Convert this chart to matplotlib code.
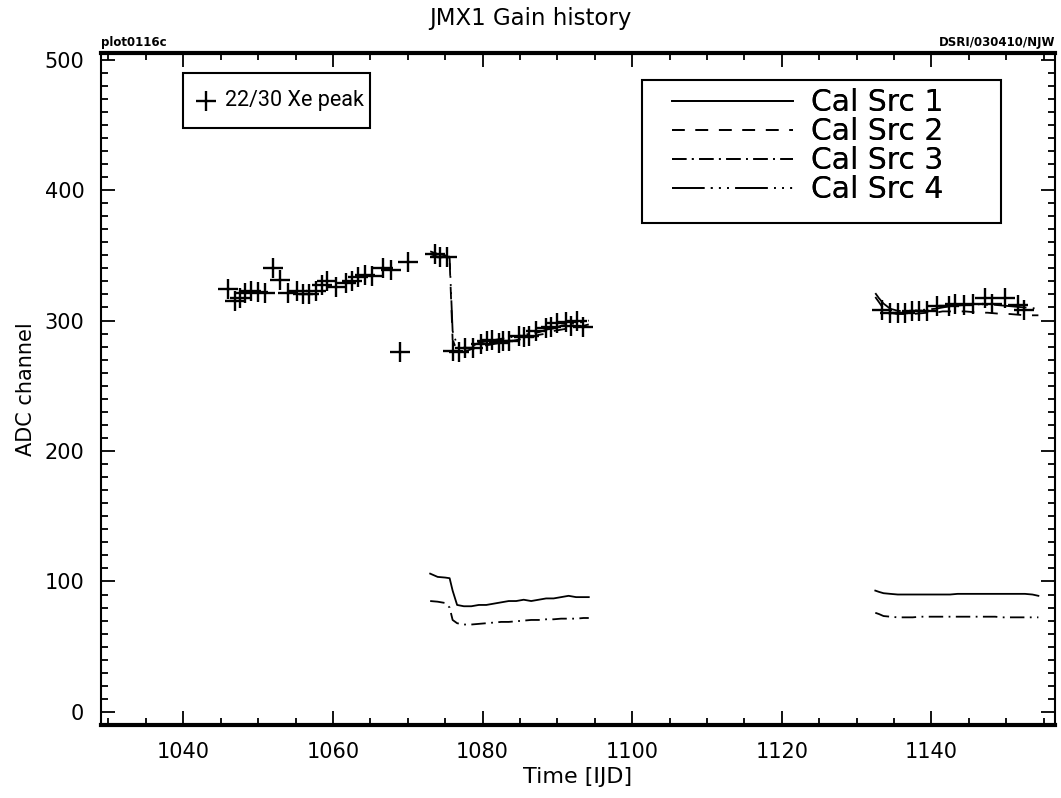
import numpy as np
import matplotlib
matplotlib.use('Agg')
import matplotlib.pyplot as plt
from matplotlib.ticker import MultipleLocator
from matplotlib.patches import Rectangle

# 22/30 Xe peak (crosses)
xe_t = [1046.0, 1046.9, 1047.6, 1048.3, 1049.0, 1050.0, 1050.9, 1052.0, 1052.9,
        1054.0, 1055.2, 1056.0, 1056.8, 1057.7, 1058.6, 1059.2, 1060.4, 1061.8,
        1062.5, 1063.4, 1064.3, 1065.2, 1066.7, 1067.8, 1068.9, 1070.0,
        1073.6, 1074.3, 1075.2,
        1076.0, 1076.9, 1077.7, 1078.7, 1079.8, 1080.6, 1081.2, 1082.2, 1082.8,
        1083.6, 1084.9, 1085.6, 1086.2, 1087.2, 1088.5, 1089.2, 1090.0, 1091.1,
        1091.8, 1092.6, 1093.4,
        1133.4, 1134.5, 1135.5, 1136.5, 1137.4, 1138.3, 1139.4, 1140.7, 1142.3,
        1143.2, 1144.4, 1145.6, 1147.1, 1148.1, 1149.8, 1151.6, 1152.4]
xe_peak = [324, 315, 317, 321, 323, 322, 321, 340, 331,
           321, 323, 320, 320, 323, 327, 330, 326, 329,
           330, 333, 335, 334, 340, 339, 276, 345,
           351, 349, 349,
           277, 276, 279, 279, 282, 284, 285, 283, 284,
           284, 288, 287, 288, 292, 294, 295, 298, 299,
           296, 300, 295,
           308, 306, 306, 306, 307, 307, 307, 311, 311,
           313, 312, 313, 317, 313, 317, 312, 308]

# calibration source lines, two observing periods
t_a = [1073.0, 1074.0, 1075.0, 1075.6, 1076.0, 1076.6, 1077.5, 1078.5, 1079.5,
       1080.5, 1081.5, 1082.5, 1083.5, 1084.5, 1085.5, 1086.5, 1087.5, 1088.5,
       1089.5, 1090.5, 1091.5, 1092.5, 1093.5, 1094.2]
t_b = [1132.5, 1133.0, 1133.6, 1134.5, 1135.5, 1136.5, 1137.5, 1138.5, 1139.5,
       1140.5, 1141.5, 1142.5, 1143.5, 1144.5, 1145.5, 1146.5, 1147.5, 1148.5,
       1149.5, 1150.5, 1151.5, 1152.5, 1153.5, 1154.3]

src1_a = [106, 103.5, 103, 102.5, 93, 82, 81, 81, 82, 82, 83, 84,
          85, 85, 86, 85, 86, 87, 87, 88, 89, 88, 88, 88]
src1_b = [93, 92, 91, 90.5, 90, 90, 90, 90, 90, 90, 90, 90,
          90.5, 90.5, 90.5, 90.5, 90.5, 90.5, 90.5, 90.5, 90.5, 90.5, 90, 89]
src2_a = [351, 349, 348, 346, 285, 277, 276, 278, 280, 281, 282, 283,
          284, 285, 286, 287, 289, 290, 292, 293, 294, 295, 296, 297]
src2_b = [318, 314, 309, 306, 305, 305, 305, 305.5, 306, 306, 307, 307,
          307, 307, 306.5, 306, 306, 305.5, 305, 305, 304.5, 304, 304, 304]
src3_a = [85, 84.5, 83.5, 80, 70.5, 68, 67, 67, 67.5, 68, 68.5, 69,
          69, 69.5, 70, 70.5, 70.5, 71, 71, 71.5, 71.5, 71.5, 72, 72]
src3_b = [76, 75, 73.5, 73, 72.5, 72.5, 72.5, 73, 73, 73, 73, 73,
          73, 73, 73, 73, 73, 73, 72.5, 72.5, 72.5, 72.5, 72.5, 72.5]
src4_a = [353, 351, 350, 348, 292, 281, 278, 280, 283, 284, 285, 286,
          287, 288, 289, 290, 291, 293, 294, 296, 297, 298, 299, 300]
src4_b = [321, 317, 313, 309, 307.5, 307, 307.5, 308, 308.5, 309, 310, 311,
          311.5, 312, 312, 312.5, 312, 312, 311.5, 311, 310.5, 310, 309.5, 309]

src_labels = ['Cal Src 1', 'Cal Src 2', 'Cal Src 3', 'Cal Src 4']

t_all = np.concatenate([t_a, [np.nan], t_b])


def join(a, b):
    return np.concatenate([a, [np.nan], b])


styles = ['-', (0, (7, 6)), (0, (8, 3, 1, 3)),
          (0, (18, 3.5, 1, 3.5, 1, 3.5, 1, 3.5))]
series = [join(src1_a, src1_b), join(src2_a, src2_b),
          join(src3_a, src3_b), join(src4_a, src4_b)]

fig = plt.figure(figsize=(10.61, 7.98), dpi=100)
ax = fig.add_axes([0.0952, 0.0915, 0.899, 0.842])

handles = []
for y, ls, lab in zip(series, styles, src_labels):
    h, = ax.plot(t_all, y, color='k', lw=1.3, ls=ls, label=lab)
    handles.append(h)

ax.plot(xe_t, xe_peak, ls='none', marker='+', ms=14, mew=1.7, color='k')

ax.set_xlim(1029, 1156.5)
ax.set_ylim(-10, 505)
ax.xaxis.set_major_locator(MultipleLocator(20))
ax.xaxis.set_minor_locator(MultipleLocator(5))
ax.yaxis.set_major_locator(MultipleLocator(100))
ax.yaxis.set_minor_locator(MultipleLocator(10))
ax.tick_params(which='both', direction='in', top=True, right=True, width=1.3)
ax.tick_params(which='major', length=10, labelsize=15, pad=12)
ax.tick_params(which='minor', length=5)
for side in ['top', 'bottom']:
    ax.spines[side].set_linewidth(3)
for side in ['left', 'right']:
    ax.spines[side].set_linewidth(1.5)

ax.set_xlabel('Time [IJD]', fontsize=16, labelpad=4)
ax.set_ylabel('ADC channel', fontsize=15, labelpad=6)

fig.text(0.4995, 0.977, 'JMX1 Gain history', ha='center', va='center', fontsize=16.5)
fig.text(0.0952, 0.942, 'plot0116c', ha='left', va='baseline', fontsize=8.5, weight='bold')
fig.text(0.9943, 0.942, 'DSRI/030410/NJW', ha='right', va='baseline', fontsize=8.5, weight='bold')

# legend for the calibration sources
leg2 = ax.legend(handles=handles, loc='upper left', bbox_to_anchor=(0.5985, 0.948),
                 fontsize=21.5, handlelength=4.05, handletextpad=0.6, labelspacing=0.0,
                 borderpad=0, frameon=False, borderaxespad=0)
ax.add_artist(leg2)
ax.add_patch(Rectangle((0.567, 0.747), 0.377, 0.213, transform=ax.transAxes,
                       facecolor='none', edgecolor='k', lw=1.5, zorder=5))

# legend for the Xe peak
ax.add_patch(Rectangle((0.086, 0.888), 0.196, 0.082, transform=ax.transAxes,
                       facecolor='white', edgecolor='k', lw=1.5, zorder=5))
ax.plot([0.1105], [0.929], transform=ax.transAxes, ls='none', marker='+',
        ms=15, mew=1.7, color='k', zorder=6)
ax.text(0.1305, 0.929, '22/30 Xe peak', transform=ax.transAxes, va='center', ha='left',
        fontsize=15.5, family='Roboto', zorder=6)

fig.savefig('out.png', dpi=100)
